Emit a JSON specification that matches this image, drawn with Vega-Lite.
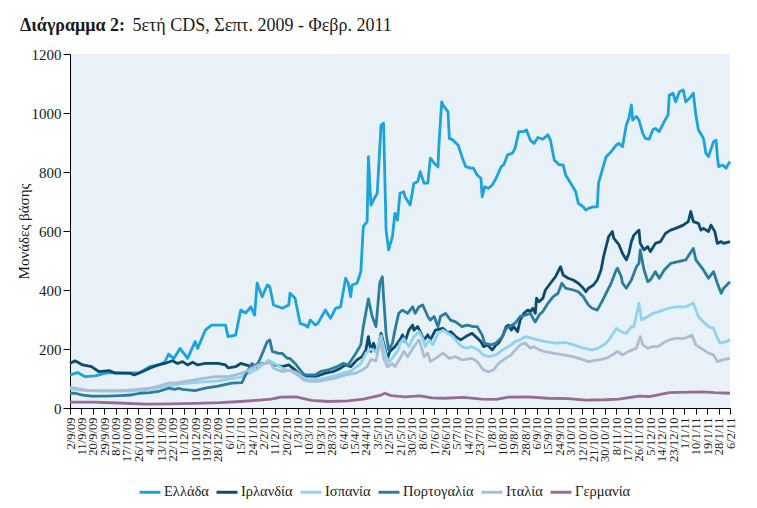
{
"$schema":"https://vega.github.io/schema/vega-lite/v6.json",
"width":660,"height":354,
"autosize":"none",
"padding":{"left":70,"top":54,"right":27,"bottom":100},
"background":"white",
"view":{"fill":"#e9f1f8","stroke":null},
"title":{"text":"Διάγραμμα 2:","subtitle":"\u200b\u00a0\u00a0\u00a0\u00a0\u00a0\u00a0\u00a0\u00a0\u00a0\u00a0\u00a0\u00a0\u00a0\u00a0\u00a0\u00a0\u00a0\u00a0\u00a0\u00a0\u00a0\u00a0\u00a0\u00a0\u00a05ετή CDS, Σεπτ. 2009 - Φεβρ. 2011","anchor":"start","frame":"group","dx":-50,"offset":12,"font":"Liberation Serif","fontSize":18,"fontWeight":"bold","color":"#1a1a1a","subtitleFont":"Liberation Serif","subtitleFontSize":18,"subtitleColor":"#1a1a1a","subtitlePadding":-18},
"data":{"values":[
{"c":"Ελλάδα","d":"2009-09-02","v":112},{"c":"Ελλάδα","d":"2009-09-08","v":120},{"c":"Ελλάδα","d":"2009-09-14","v":106},{"c":"Ελλάδα","d":"2009-09-22","v":109},{"c":"Ελλάδα","d":"2009-09-30","v":118},{"c":"Ελλάδα","d":"2009-10-08","v":120},{"c":"Ελλάδα","d":"2009-10-16","v":118},{"c":"Ελλάδα","d":"2009-10-27","v":120},{"c":"Ελλάδα","d":"2009-11-04","v":140},{"c":"Ελλάδα","d":"2009-11-11","v":146},{"c":"Ελλάδα","d":"2009-11-16","v":156},{"c":"Ελλάδα","d":"2009-11-19","v":183},{"c":"Ελλάδα","d":"2009-11-23","v":167},{"c":"Ελλάδα","d":"2009-11-28","v":202},{"c":"Ελλάδα","d":"2009-12-04","v":168},{"c":"Ελλάδα","d":"2009-12-10","v":225},{"c":"Ελλάδα","d":"2009-12-12","v":202},{"c":"Ελλάδα","d":"2009-12-18","v":264},{"c":"Ελλάδα","d":"2009-12-23","v":281},{"c":"Ελλάδα","d":"2010-01-03","v":281},{"c":"Ελλάδα","d":"2010-01-05","v":242},{"c":"Ελλάδα","d":"2010-01-11","v":247},{"c":"Ελλάδα","d":"2010-01-15","v":332},{"c":"Ελλάδα","d":"2010-01-19","v":322},{"c":"Ελλάδα","d":"2010-01-23","v":343},{"c":"Ελλάδα","d":"2010-01-26","v":315},{"c":"Ελλάδα","d":"2010-01-28","v":423},{"c":"Ελλάδα","d":"2010-02-01","v":377},{"c":"Ελλάδα","d":"2010-02-05","v":417},{"c":"Ελλάδα","d":"2010-02-07","v":411},{"c":"Ελλάδα","d":"2010-02-10","v":349},{"c":"Ελλάδα","d":"2010-02-14","v":343},{"c":"Ελλάδα","d":"2010-02-17","v":338},{"c":"Ελλάδα","d":"2010-02-22","v":349},{"c":"Ελλάδα","d":"2010-02-23","v":389},{"c":"Ελλάδα","d":"2010-02-27","v":372},{"c":"Ελλάδα","d":"2010-03-03","v":287},{"c":"Ελλάδα","d":"2010-03-07","v":281},{"c":"Ελλάδα","d":"2010-03-09","v":274},{"c":"Ελλάδα","d":"2010-03-11","v":298},{"c":"Ελλάδα","d":"2010-03-15","v":281},{"c":"Ελλάδα","d":"2010-03-17","v":287},{"c":"Ελλάδα","d":"2010-03-23","v":332},{"c":"Ελλάδα","d":"2010-03-27","v":304},{"c":"Ελλάδα","d":"2010-03-31","v":338},{"c":"Ελλάδα","d":"2010-04-04","v":343},{"c":"Ελλάδα","d":"2010-04-08","v":440},{"c":"Ελλάδα","d":"2010-04-10","v":423},{"c":"Ελλάδα","d":"2010-04-12","v":377},{"c":"Ελλάδα","d":"2010-04-13","v":417},{"c":"Ελλάδα","d":"2010-04-17","v":423},{"c":"Ελλάδα","d":"2010-04-20","v":462},{"c":"Ελλάδα","d":"2010-04-22","v":615},{"c":"Ελλάδα","d":"2010-04-25","v":632},{"c":"Ελλάδα","d":"2010-04-26","v":852},{"c":"Ελλάδα","d":"2010-04-28","v":688},{"c":"Ελλάδα","d":"2010-04-30","v":705},{"c":"Ελλάδα","d":"2010-05-03","v":728},{"c":"Ελλάδα","d":"2010-05-06","v":959},{"c":"Ελλάδα","d":"2010-05-08","v":965},{"c":"Ελλάδα","d":"2010-05-10","v":603},{"c":"Ελλάδα","d":"2010-05-12","v":536},{"c":"Ελλάδα","d":"2010-05-15","v":581},{"c":"Ελλάδα","d":"2010-05-17","v":660},{"c":"Ελλάδα","d":"2010-05-19","v":637},{"c":"Ελλάδα","d":"2010-05-21","v":728},{"c":"Ελλάδα","d":"2010-05-24","v":733},{"c":"Ελλάδα","d":"2010-05-25","v":716},{"c":"Ελλάδα","d":"2010-05-29","v":688},{"c":"Ελλάδα","d":"2010-06-01","v":762},{"c":"Ελλάδα","d":"2010-06-04","v":767},{"c":"Ελλάδα","d":"2010-06-06","v":801},{"c":"Ελλάδα","d":"2010-06-09","v":762},{"c":"Ελλάδα","d":"2010-06-12","v":762},{"c":"Ελλάδα","d":"2010-06-14","v":847},{"c":"Ελλάδα","d":"2010-06-17","v":830},{"c":"Ελλάδα","d":"2010-06-20","v":818},{"c":"Ελλάδα","d":"2010-06-21","v":908},{"c":"Ελλάδα","d":"2010-06-23","v":1038},{"c":"Ελλάδα","d":"2010-06-24","v":1027},{"c":"Ελλάδα","d":"2010-06-28","v":1004},{"c":"Ελλάδα","d":"2010-06-29","v":914},{"c":"Ελλάδα","d":"2010-07-02","v":908},{"c":"Ελλάδα","d":"2010-07-06","v":891},{"c":"Ελλάδα","d":"2010-07-09","v":852},{"c":"Ελλάδα","d":"2010-07-12","v":818},{"c":"Ελλάδα","d":"2010-07-16","v":813},{"c":"Ελλάδα","d":"2010-07-18","v":813},{"c":"Ελλάδα","d":"2010-07-21","v":790},{"c":"Ελλάδα","d":"2010-07-24","v":779},{"c":"Ελλάδα","d":"2010-07-25","v":716},{"c":"Ελλάδα","d":"2010-07-27","v":750},{"c":"Ελλάδα","d":"2010-07-30","v":745},{"c":"Ελλάδα","d":"2010-08-02","v":756},{"c":"Ελλάδα","d":"2010-08-05","v":779},{"c":"Ελλάδα","d":"2010-08-09","v":818},{"c":"Ελλάδα","d":"2010-08-11","v":824},{"c":"Ελλάδα","d":"2010-08-14","v":858},{"c":"Ελλάδα","d":"2010-08-18","v":864},{"c":"Ελλάδα","d":"2010-08-20","v":880},{"c":"Ελλάδα","d":"2010-08-23","v":937},{"c":"Ελλάδα","d":"2010-08-27","v":937},{"c":"Ελλάδα","d":"2010-08-29","v":943},{"c":"Ελλάδα","d":"2010-09-01","v":908},{"c":"Ελλάδα","d":"2010-09-04","v":897},{"c":"Ελλάδα","d":"2010-09-07","v":917},{"c":"Ελλάδα","d":"2010-09-11","v":911},{"c":"Ελλάδα","d":"2010-09-15","v":926},{"c":"Ελλάδα","d":"2010-09-17","v":908},{"c":"Ελλάδα","d":"2010-09-20","v":841},{"c":"Ελλάδα","d":"2010-09-24","v":824},{"c":"Ελλάδα","d":"2010-09-27","v":824},{"c":"Ελλάδα","d":"2010-09-29","v":790},{"c":"Ελλάδα","d":"2010-10-03","v":762},{"c":"Ελλάδα","d":"2010-10-07","v":733},{"c":"Ελλάδα","d":"2010-10-09","v":694},{"c":"Ελλάδα","d":"2010-10-13","v":682},{"c":"Ελλάδα","d":"2010-10-15","v":671},{"c":"Ελλάδα","d":"2010-10-17","v":677},{"c":"Ελλάδα","d":"2010-10-21","v":682},{"c":"Ελλάδα","d":"2010-10-24","v":682},{"c":"Ελλάδα","d":"2010-10-25","v":762},{"c":"Ελλάδα","d":"2010-10-28","v":807},{"c":"Ελλάδα","d":"2010-10-31","v":852},{"c":"Ελλάδα","d":"2010-11-04","v":869},{"c":"Ελλάδα","d":"2010-11-08","v":891},{"c":"Ελλάδα","d":"2010-11-10","v":897},{"c":"Ελλάδα","d":"2010-11-13","v":886},{"c":"Ελλάδα","d":"2010-11-16","v":959},{"c":"Ελλάδα","d":"2010-11-18","v":982},{"c":"Ελλάδα","d":"2010-11-20","v":1027},{"c":"Ελλάδα","d":"2010-11-21","v":976},{"c":"Ελλάδα","d":"2010-11-24","v":988},{"c":"Ελλάδα","d":"2010-11-26","v":976},{"c":"Ελλάδα","d":"2010-11-29","v":931},{"c":"Ελλάδα","d":"2010-12-01","v":914},{"c":"Ελλάδα","d":"2010-12-04","v":911},{"c":"Ελλάδα","d":"2010-12-07","v":943},{"c":"Ελλάδα","d":"2010-12-09","v":948},{"c":"Ελλάδα","d":"2010-12-12","v":937},{"c":"Ελλάδα","d":"2010-12-16","v":971},{"c":"Ελλάδα","d":"2010-12-19","v":993},{"c":"Ελλάδα","d":"2010-12-20","v":1061},{"c":"Ελλάδα","d":"2010-12-23","v":1067},{"c":"Ελλάδα","d":"2010-12-25","v":1038},{"c":"Ελλάδα","d":"2010-12-28","v":1072},{"c":"Ελλάδα","d":"2010-12-31","v":1078},{"c":"Ελλάδα","d":"2011-01-02","v":1038},{"c":"Ελλάδα","d":"2011-01-05","v":1050},{"c":"Ελλάδα","d":"2011-01-08","v":1067},{"c":"Ελλάδα","d":"2011-01-10","v":993},{"c":"Ελλάδα","d":"2011-01-12","v":943},{"c":"Ελλάδα","d":"2011-01-16","v":914},{"c":"Ελλάδα","d":"2011-01-18","v":863},{"c":"Ελλάδα","d":"2011-01-20","v":852},{"c":"Ελλάδα","d":"2011-01-24","v":903},{"c":"Ελλάδα","d":"2011-01-26","v":908},{"c":"Ελλάδα","d":"2011-01-27","v":852},{"c":"Ελλάδα","d":"2011-01-28","v":818},{"c":"Ελλάδα","d":"2011-01-31","v":824},{"c":"Ελλάδα","d":"2011-02-03","v":813},{"c":"Ελλάδα","d":"2011-02-05","v":829},{"c":"Ελλάδα","d":"2011-02-06","v":835},
{"c":"Ιρλανδία","d":"2009-09-02","v":151},{"c":"Ιρλανδία","d":"2009-09-06","v":160},{"c":"Ιρλανδία","d":"2009-09-12","v":146},{"c":"Ιρλανδία","d":"2009-09-19","v":140},{"c":"Ιρλανδία","d":"2009-09-25","v":123},{"c":"Ιρλανδία","d":"2009-10-03","v":127},{"c":"Ιρλανδία","d":"2009-10-08","v":118},{"c":"Ιρλανδία","d":"2009-10-19","v":118},{"c":"Ιρλανδία","d":"2009-10-23","v":112},{"c":"Ιρλανδία","d":"2009-10-29","v":123},{"c":"Ιρλανδία","d":"2009-11-04","v":135},{"c":"Ιρλανδία","d":"2009-11-11","v":146},{"c":"Ιρλανδία","d":"2009-11-16","v":151},{"c":"Ιρλανδία","d":"2009-11-22","v":160},{"c":"Ιρλανδία","d":"2009-11-26","v":151},{"c":"Ιρλανδία","d":"2009-11-30","v":157},{"c":"Ιρλανδία","d":"2009-12-04","v":146},{"c":"Ιρλανδία","d":"2009-12-08","v":155},{"c":"Ιρλανδία","d":"2009-12-12","v":146},{"c":"Ιρλανδία","d":"2009-12-18","v":151},{"c":"Ιρλανδία","d":"2009-12-28","v":151},{"c":"Ιρλανδία","d":"2010-01-03","v":146},{"c":"Ιρλανδία","d":"2010-01-05","v":136},{"c":"Ιρλανδία","d":"2010-01-11","v":140},{"c":"Ιρλανδία","d":"2010-01-15","v":151},{"c":"Ιρλανδία","d":"2010-01-19","v":146},{"c":"Ιρλανδία","d":"2010-01-24","v":140},{"c":"Ιρλανδία","d":"2010-01-27","v":146},{"c":"Ιρλανδία","d":"2010-02-03","v":151},{"c":"Ιρλανδία","d":"2010-02-07","v":157},{"c":"Ιρλανδία","d":"2010-02-11","v":146},{"c":"Ιρλανδία","d":"2010-02-17","v":140},{"c":"Ιρλανδία","d":"2010-02-22","v":146},{"c":"Ιρλανδία","d":"2010-02-27","v":129},{"c":"Ιρλανδία","d":"2010-03-03","v":112},{"c":"Ιρλανδία","d":"2010-03-07","v":106},{"c":"Ιρλανδία","d":"2010-03-15","v":106},{"c":"Ιρλανδία","d":"2010-03-19","v":112},{"c":"Ιρλανδία","d":"2010-03-23","v":118},{"c":"Ιρλανδία","d":"2010-03-29","v":123},{"c":"Ιρλανδία","d":"2010-04-04","v":135},{"c":"Ιρλανδία","d":"2010-04-08","v":146},{"c":"Ιρλανδία","d":"2010-04-12","v":140},{"c":"Ιρλανδία","d":"2010-04-17","v":163},{"c":"Ιρλανδία","d":"2010-04-21","v":174},{"c":"Ιρλανδία","d":"2010-04-24","v":197},{"c":"Ιρλανδία","d":"2010-04-26","v":242},{"c":"Ιρλανδία","d":"2010-04-28","v":192},{"c":"Ιρλανδία","d":"2010-04-30","v":220},{"c":"Ιρλανδία","d":"2010-05-03","v":186},{"c":"Ιρλανδία","d":"2010-05-06","v":253},{"c":"Ιρλανδία","d":"2010-05-08","v":220},{"c":"Ιρλανδία","d":"2010-05-11","v":168},{"c":"Ιρλανδία","d":"2010-05-13","v":192},{"c":"Ιρλανδία","d":"2010-05-17","v":208},{"c":"Ιρλανδία","d":"2010-05-21","v":231},{"c":"Ιρλανδία","d":"2010-05-23","v":248},{"c":"Ιρλανδία","d":"2010-05-25","v":225},{"c":"Ιρλανδία","d":"2010-05-28","v":264},{"c":"Ιρλανδία","d":"2010-05-31","v":281},{"c":"Ιρλανδία","d":"2010-06-01","v":264},{"c":"Ιρλανδία","d":"2010-06-04","v":276},{"c":"Ιρλανδία","d":"2010-06-09","v":231},{"c":"Ιρλανδία","d":"2010-06-12","v":248},{"c":"Ιρλανδία","d":"2010-06-14","v":231},{"c":"Ιρλανδία","d":"2010-06-18","v":264},{"c":"Ιρλανδία","d":"2010-06-24","v":270},{"c":"Ιρλανδία","d":"2010-06-28","v":253},{"c":"Ιρλανδία","d":"2010-06-30","v":259},{"c":"Ιρλανδία","d":"2010-07-04","v":242},{"c":"Ιρλανδία","d":"2010-07-08","v":231},{"c":"Ιρλανδία","d":"2010-07-12","v":242},{"c":"Ιρλανδία","d":"2010-07-17","v":253},{"c":"Ιρλανδία","d":"2010-07-21","v":237},{"c":"Ιρλανδία","d":"2010-07-24","v":225},{"c":"Ιρλανδία","d":"2010-07-26","v":208},{"c":"Ιρλανδία","d":"2010-07-29","v":214},{"c":"Ιρλανδία","d":"2010-08-02","v":197},{"c":"Ιρλανδία","d":"2010-08-05","v":214},{"c":"Ιρλανδία","d":"2010-08-07","v":220},{"c":"Ιρλανδία","d":"2010-08-10","v":242},{"c":"Ιρλανδία","d":"2010-08-13","v":276},{"c":"Ιρλανδία","d":"2010-08-15","v":281},{"c":"Ιρλανδία","d":"2010-08-17","v":264},{"c":"Ιρλανδία","d":"2010-08-19","v":276},{"c":"Ιρλανδία","d":"2010-08-22","v":259},{"c":"Ιρλανδία","d":"2010-08-24","v":298},{"c":"Ιρλανδία","d":"2010-08-27","v":321},{"c":"Ιρλανδία","d":"2010-08-30","v":332},{"c":"Ιρλανδία","d":"2010-09-01","v":327},{"c":"Ιρλανδία","d":"2010-09-03","v":338},{"c":"Ιρλανδία","d":"2010-09-05","v":321},{"c":"Ιρλανδία","d":"2010-09-06","v":372},{"c":"Ιρλανδία","d":"2010-09-08","v":360},{"c":"Ιρλανδία","d":"2010-09-11","v":372},{"c":"Ιρλανδία","d":"2010-09-13","v":400},{"c":"Ιρλανδία","d":"2010-09-17","v":423},{"c":"Ιρλανδία","d":"2010-09-21","v":445},{"c":"Ιρλανδία","d":"2010-09-25","v":479},{"c":"Ιρλανδία","d":"2010-09-27","v":451},{"c":"Ιρλανδία","d":"2010-10-01","v":440},{"c":"Ιρλανδία","d":"2010-10-05","v":434},{"c":"Ιρλανδία","d":"2010-10-09","v":423},{"c":"Ιρλανδία","d":"2010-10-13","v":406},{"c":"Ιρλανδία","d":"2010-10-15","v":394},{"c":"Ιρλανδία","d":"2010-10-17","v":406},{"c":"Ιρλανδία","d":"2010-10-21","v":417},{"c":"Ιρλανδία","d":"2010-10-24","v":434},{"c":"Ιρλανδία","d":"2010-10-27","v":468},{"c":"Ιρλανδία","d":"2010-10-29","v":513},{"c":"Ιρλανδία","d":"2010-11-02","v":581},{"c":"Ιρλανδία","d":"2010-11-05","v":598},{"c":"Ιρλανδία","d":"2010-11-06","v":576},{"c":"Ιρλανδία","d":"2010-11-10","v":555},{"c":"Ιρλανδία","d":"2010-11-13","v":524},{"c":"Ιρλανδία","d":"2010-11-16","v":502},{"c":"Ιρλανδία","d":"2010-11-18","v":524},{"c":"Ιρλανδία","d":"2010-11-20","v":564},{"c":"Ιρλανδία","d":"2010-11-22","v":586},{"c":"Ιρλανδία","d":"2010-11-26","v":603},{"c":"Ιρλανδία","d":"2010-11-27","v":558},{"c":"Ιρλανδία","d":"2010-11-30","v":536},{"c":"Ιρλανδία","d":"2010-12-03","v":547},{"c":"Ιρλανδία","d":"2010-12-05","v":530},{"c":"Ιρλανδία","d":"2010-12-09","v":558},{"c":"Ιρλανδία","d":"2010-12-13","v":564},{"c":"Ιρλανδία","d":"2010-12-17","v":592},{"c":"Ιρλανδία","d":"2010-12-21","v":603},{"c":"Ιρλανδία","d":"2010-12-25","v":609},{"c":"Ιρλανδία","d":"2010-12-31","v":620},{"c":"Ιρλανδία","d":"2011-01-04","v":632},{"c":"Ιρλανδία","d":"2011-01-06","v":666},{"c":"Ιρλανδία","d":"2011-01-08","v":632},{"c":"Ιρλανδία","d":"2011-01-12","v":626},{"c":"Ιρλανδία","d":"2011-01-14","v":603},{"c":"Ιρλανδία","d":"2011-01-16","v":609},{"c":"Ιρλανδία","d":"2011-01-20","v":598},{"c":"Ιρλανδία","d":"2011-01-22","v":620},{"c":"Ιρλανδία","d":"2011-01-25","v":598},{"c":"Ιρλανδία","d":"2011-01-27","v":558},{"c":"Ιρλανδία","d":"2011-01-30","v":564},{"c":"Ιρλανδία","d":"2011-02-01","v":558},{"c":"Ιρλανδία","d":"2011-02-06","v":564},
{"c":"Ισπανία","d":"2009-09-02","v":66},{"c":"Ισπανία","d":"2009-09-12","v":60},{"c":"Ισπανία","d":"2009-09-26","v":57},{"c":"Ισπανία","d":"2009-10-20","v":57},{"c":"Ισπανία","d":"2009-11-04","v":63},{"c":"Ισπανία","d":"2009-11-16","v":72},{"c":"Ισπανία","d":"2009-11-28","v":82},{"c":"Ισπανία","d":"2009-12-14","v":88},{"c":"Ισπανία","d":"2009-12-30","v":93},{"c":"Ισπανία","d":"2010-01-15","v":105},{"c":"Ισπανία","d":"2010-01-23","v":120},{"c":"Ισπανία","d":"2010-01-29","v":135},{"c":"Ισπανία","d":"2010-02-06","v":162},{"c":"Ισπανία","d":"2010-02-11","v":150},{"c":"Ισπανία","d":"2010-02-19","v":130},{"c":"Ισπανία","d":"2010-02-27","v":122},{"c":"Ισπανία","d":"2010-03-07","v":100},{"c":"Ισπανία","d":"2010-03-19","v":98},{"c":"Ισπανία","d":"2010-03-31","v":110},{"c":"Ισπανία","d":"2010-04-12","v":125},{"c":"Ισπανία","d":"2010-04-20","v":150},{"c":"Ισπανία","d":"2010-04-24","v":185},{"c":"Ισπανία","d":"2010-04-28","v":200},{"c":"Ισπανία","d":"2010-05-02","v":190},{"c":"Ισπανία","d":"2010-05-06","v":245},{"c":"Ισπανία","d":"2010-05-10","v":175},{"c":"Ισπανία","d":"2010-05-12","v":155},{"c":"Ισπανία","d":"2010-05-16","v":175},{"c":"Ισπανία","d":"2010-05-20","v":200},{"c":"Ισπανία","d":"2010-05-21","v":220},{"c":"Ισπανία","d":"2010-05-24","v":236},{"c":"Ισπανία","d":"2010-05-28","v":208},{"c":"Ισπανία","d":"2010-06-01","v":242},{"c":"Ισπανία","d":"2010-06-05","v":259},{"c":"Ισπανία","d":"2010-06-08","v":236},{"c":"Ισπανία","d":"2010-06-10","v":208},{"c":"Ισπανία","d":"2010-06-13","v":231},{"c":"Ισπανία","d":"2010-06-16","v":214},{"c":"Ισπανία","d":"2010-06-20","v":253},{"c":"Ισπανία","d":"2010-06-24","v":264},{"c":"Ισπανία","d":"2010-06-28","v":253},{"c":"Ισπανία","d":"2010-07-02","v":242},{"c":"Ισπανία","d":"2010-07-06","v":220},{"c":"Ισπανία","d":"2010-07-09","v":208},{"c":"Ισπανία","d":"2010-07-13","v":203},{"c":"Ισπανία","d":"2010-07-17","v":208},{"c":"Ισπανία","d":"2010-07-22","v":197},{"c":"Ισπανία","d":"2010-07-26","v":180},{"c":"Ισπανία","d":"2010-07-30","v":174},{"c":"Ισπανία","d":"2010-08-05","v":180},{"c":"Ισπανία","d":"2010-08-10","v":197},{"c":"Ισπανία","d":"2010-08-17","v":214},{"c":"Ισπανία","d":"2010-08-20","v":225},{"c":"Ισπανία","d":"2010-08-24","v":231},{"c":"Ισπανία","d":"2010-08-28","v":242},{"c":"Ισπανία","d":"2010-09-03","v":236},{"c":"Ισπανία","d":"2010-09-07","v":231},{"c":"Ισπανία","d":"2010-09-13","v":225},{"c":"Ισπανία","d":"2010-09-21","v":220},{"c":"Ισπανία","d":"2010-09-29","v":222},{"c":"Ισπανία","d":"2010-10-05","v":214},{"c":"Ισπανία","d":"2010-10-13","v":203},{"c":"Ισπανία","d":"2010-10-20","v":197},{"c":"Ισπανία","d":"2010-10-25","v":203},{"c":"Ισπανία","d":"2010-10-31","v":220},{"c":"Ισπανία","d":"2010-11-04","v":242},{"c":"Ισπανία","d":"2010-11-08","v":270},{"c":"Ισπανία","d":"2010-11-12","v":259},{"c":"Ισπανία","d":"2010-11-16","v":253},{"c":"Ισπανία","d":"2010-11-20","v":276},{"c":"Ισπανία","d":"2010-11-22","v":276},{"c":"Ισπανία","d":"2010-11-26","v":355},{"c":"Ισπανία","d":"2010-11-28","v":298},{"c":"Ισπανία","d":"2010-12-03","v":310},{"c":"Ισπανία","d":"2010-12-07","v":321},{"c":"Ισπανία","d":"2010-12-12","v":327},{"c":"Ισπανία","d":"2010-12-19","v":338},{"c":"Ισπανία","d":"2010-12-25","v":343},{"c":"Ισπανία","d":"2011-01-02","v":343},{"c":"Ισπανία","d":"2011-01-08","v":355},{"c":"Ισπανία","d":"2011-01-12","v":310},{"c":"Ισπανία","d":"2011-01-16","v":292},{"c":"Ισπανία","d":"2011-01-20","v":276},{"c":"Ισπανία","d":"2011-01-24","v":270},{"c":"Ισπανία","d":"2011-01-26","v":247},{"c":"Ισπανία","d":"2011-01-29","v":220},{"c":"Ισπανία","d":"2011-02-03","v":225},{"c":"Ισπανία","d":"2011-02-06","v":231},
{"c":"Πορτογαλία","d":"2009-09-02","v":50},{"c":"Πορτογαλία","d":"2009-09-06","v":50},{"c":"Πορτογαλία","d":"2009-09-12","v":44},{"c":"Πορτογαλία","d":"2009-09-19","v":40},{"c":"Πορτογαλία","d":"2009-09-30","v":40},{"c":"Πορτογαλία","d":"2009-10-12","v":42},{"c":"Πορτογαλία","d":"2009-10-20","v":44},{"c":"Πορτογαλία","d":"2009-10-27","v":50},{"c":"Πορτογαλία","d":"2009-11-04","v":52},{"c":"Πορτογαλία","d":"2009-11-11","v":56},{"c":"Πορτογαλία","d":"2009-11-19","v":67},{"c":"Πορτογαλία","d":"2009-11-24","v":63},{"c":"Πορτογαλία","d":"2009-11-27","v":67},{"c":"Πορτογαλία","d":"2009-11-30","v":63},{"c":"Πορτογαλία","d":"2009-12-10","v":59},{"c":"Πορτογαλία","d":"2009-12-18","v":67},{"c":"Πορτογαλία","d":"2009-12-28","v":74},{"c":"Πορτογαλία","d":"2010-01-08","v":84},{"c":"Πορτογαλία","d":"2010-01-16","v":86},{"c":"Πορτογαλία","d":"2010-01-20","v":123},{"c":"Πορτογαλία","d":"2010-01-24","v":151},{"c":"Πορτογαλία","d":"2010-01-27","v":140},{"c":"Πορτογαλία","d":"2010-01-30","v":163},{"c":"Πορτογαλία","d":"2010-02-05","v":225},{"c":"Πορτογαλία","d":"2010-02-07","v":231},{"c":"Πορτογαλία","d":"2010-02-09","v":192},{"c":"Πορτογαλία","d":"2010-02-14","v":185},{"c":"Πορτογαλία","d":"2010-02-17","v":185},{"c":"Πορτογαλία","d":"2010-02-21","v":168},{"c":"Πορτογαλία","d":"2010-02-23","v":168},{"c":"Πορτογαλία","d":"2010-02-27","v":151},{"c":"Πορτογαλία","d":"2010-03-05","v":118},{"c":"Πορτογαλία","d":"2010-03-07","v":112},{"c":"Πορτογαλία","d":"2010-03-15","v":112},{"c":"Πορτογαλία","d":"2010-03-19","v":123},{"c":"Πορτογαλία","d":"2010-03-25","v":129},{"c":"Πορτογαλία","d":"2010-04-01","v":140},{"c":"Πορτογαλία","d":"2010-04-06","v":151},{"c":"Πορτογαλία","d":"2010-04-10","v":146},{"c":"Πορτογαλία","d":"2010-04-16","v":185},{"c":"Πορτογαλία","d":"2010-04-20","v":214},{"c":"Πορτογαλία","d":"2010-04-22","v":276},{"c":"Πορτογαλία","d":"2010-04-26","v":370},{"c":"Πορτογαλία","d":"2010-04-29","v":310},{"c":"Πορτογαλία","d":"2010-05-02","v":276},{"c":"Πορτογαλία","d":"2010-05-05","v":423},{"c":"Πορτογαλία","d":"2010-05-07","v":445},{"c":"Πορτογαλία","d":"2010-05-08","v":377},{"c":"Πορτογαλία","d":"2010-05-10","v":253},{"c":"Πορτογαλία","d":"2010-05-12","v":197},{"c":"Πορτογαλία","d":"2010-05-15","v":220},{"c":"Πορτογαλία","d":"2010-05-17","v":264},{"c":"Πορτογαλία","d":"2010-05-20","v":321},{"c":"Πορτογαλία","d":"2010-05-23","v":332},{"c":"Πορτογαλία","d":"2010-05-27","v":321},{"c":"Πορτογαλία","d":"2010-05-31","v":343},{"c":"Πορτογαλία","d":"2010-06-02","v":321},{"c":"Πορτογαλία","d":"2010-06-05","v":343},{"c":"Πορτογαλία","d":"2010-06-08","v":349},{"c":"Πορτογαλία","d":"2010-06-12","v":310},{"c":"Πορτογαλία","d":"2010-06-14","v":298},{"c":"Πορτογαλία","d":"2010-06-17","v":310},{"c":"Πορτογαλία","d":"2010-06-20","v":276},{"c":"Πορτογαλία","d":"2010-06-22","v":310},{"c":"Πορτογαλία","d":"2010-06-26","v":321},{"c":"Πορτογαλία","d":"2010-06-30","v":298},{"c":"Πορτογαλία","d":"2010-07-04","v":292},{"c":"Πορτογαλία","d":"2010-07-09","v":276},{"c":"Πορτογαλία","d":"2010-07-13","v":281},{"c":"Πορτογαλία","d":"2010-07-18","v":276},{"c":"Πορτογαλία","d":"2010-07-21","v":276},{"c":"Πορτογαλία","d":"2010-07-25","v":247},{"c":"Πορτογαλία","d":"2010-07-27","v":219},{"c":"Πορτογαλία","d":"2010-08-01","v":214},{"c":"Πορτογαλία","d":"2010-08-05","v":220},{"c":"Πορτογαλία","d":"2010-08-10","v":242},{"c":"Πορτογαλία","d":"2010-08-13","v":270},{"c":"Πορτογαλία","d":"2010-08-17","v":280},{"c":"Πορτογαλία","d":"2010-08-20","v":287},{"c":"Πορτογαλία","d":"2010-08-24","v":310},{"c":"Πορτογαλία","d":"2010-08-28","v":315},{"c":"Πορτογαλία","d":"2010-09-01","v":321},{"c":"Πορτογαλία","d":"2010-09-04","v":298},{"c":"Πορτογαλία","d":"2010-09-05","v":292},{"c":"Πορτογαλία","d":"2010-09-08","v":315},{"c":"Πορτογαλία","d":"2010-09-11","v":327},{"c":"Πορτογαλία","d":"2010-09-15","v":355},{"c":"Πορτογαλία","d":"2010-09-19","v":377},{"c":"Πορτογαλία","d":"2010-09-23","v":389},{"c":"Πορτογαλία","d":"2010-09-26","v":423},{"c":"Πορτογαλία","d":"2010-09-29","v":406},{"c":"Πορτογαλία","d":"2010-10-05","v":400},{"c":"Πορτογαλία","d":"2010-10-09","v":394},{"c":"Πορτογαλία","d":"2010-10-13","v":377},{"c":"Πορτογαλία","d":"2010-10-17","v":349},{"c":"Πορτογαλία","d":"2010-10-20","v":338},{"c":"Πορτογαλία","d":"2010-10-24","v":332},{"c":"Πορτογαλία","d":"2010-10-27","v":355},{"c":"Πορτογαλία","d":"2010-10-31","v":389},{"c":"Πορτογαλία","d":"2010-11-04","v":423},{"c":"Πορτογαλία","d":"2010-11-08","v":468},{"c":"Πορτογαλία","d":"2010-11-09","v":474},{"c":"Πορτογαλία","d":"2010-11-12","v":445},{"c":"Πορτογαλία","d":"2010-11-13","v":423},{"c":"Πορτογαλία","d":"2010-11-16","v":406},{"c":"Πορτογαλία","d":"2010-11-20","v":434},{"c":"Πορτογαλία","d":"2010-11-24","v":479},{"c":"Πορτογαλία","d":"2010-11-26","v":490},{"c":"Πορτογαλία","d":"2010-11-27","v":536},{"c":"Πορτογαλία","d":"2010-11-30","v":468},{"c":"Πορτογαλία","d":"2010-12-03","v":428},{"c":"Πορτογαλία","d":"2010-12-05","v":434},{"c":"Πορτογαλία","d":"2010-12-09","v":462},{"c":"Πορτογαλία","d":"2010-12-12","v":440},{"c":"Πορτογαλία","d":"2010-12-16","v":468},{"c":"Πορτογαλία","d":"2010-12-21","v":490},{"c":"Πορτογαλία","d":"2010-12-27","v":496},{"c":"Πορτογαλία","d":"2011-01-02","v":502},{"c":"Πορτογαλία","d":"2011-01-08","v":541},{"c":"Πορτογαλία","d":"2011-01-10","v":502},{"c":"Πορτογαλία","d":"2011-01-16","v":468},{"c":"Πορτογαλία","d":"2011-01-20","v":440},{"c":"Πορτογαλία","d":"2011-01-24","v":462},{"c":"Πορτογαλία","d":"2011-01-27","v":423},{"c":"Πορτογαλία","d":"2011-01-30","v":389},{"c":"Πορτογαλία","d":"2011-02-01","v":406},{"c":"Πορτογαλία","d":"2011-02-06","v":428},
{"c":"Ιταλία","d":"2009-09-02","v":70},{"c":"Ιταλία","d":"2009-09-06","v":67},{"c":"Ιταλία","d":"2009-09-17","v":59},{"c":"Ιταλία","d":"2009-10-12","v":59},{"c":"Ιταλία","d":"2009-10-23","v":62},{"c":"Ιταλία","d":"2009-11-04","v":67},{"c":"Ιταλία","d":"2009-11-11","v":74},{"c":"Ιταλία","d":"2009-11-19","v":84},{"c":"Ιταλία","d":"2009-11-27","v":86},{"c":"Ιταλία","d":"2009-12-02","v":90},{"c":"Ιταλία","d":"2009-12-10","v":95},{"c":"Ιταλία","d":"2009-12-18","v":101},{"c":"Ιταλία","d":"2009-12-26","v":106},{"c":"Ιταλία","d":"2010-01-05","v":106},{"c":"Ιταλία","d":"2010-01-11","v":112},{"c":"Ιταλία","d":"2010-01-16","v":118},{"c":"Ιταλία","d":"2010-01-24","v":135},{"c":"Ιταλία","d":"2010-01-29","v":146},{"c":"Ιταλία","d":"2010-02-05","v":151},{"c":"Ιταλία","d":"2010-02-07","v":157},{"c":"Ιταλία","d":"2010-02-10","v":135},{"c":"Ιταλία","d":"2010-02-17","v":123},{"c":"Ιταλία","d":"2010-02-23","v":129},{"c":"Ιταλία","d":"2010-03-01","v":112},{"c":"Ιταλία","d":"2010-03-06","v":95},{"c":"Ιταλία","d":"2010-03-10","v":90},{"c":"Ιταλία","d":"2010-03-17","v":90},{"c":"Ιταλία","d":"2010-03-23","v":95},{"c":"Ιταλία","d":"2010-03-31","v":101},{"c":"Ιταλία","d":"2010-04-08","v":112},{"c":"Ιταλία","d":"2010-04-16","v":118},{"c":"Ιταλία","d":"2010-04-21","v":129},{"c":"Ιταλία","d":"2010-04-25","v":140},{"c":"Ιταλία","d":"2010-04-28","v":165},{"c":"Ιταλία","d":"2010-05-02","v":160},{"c":"Ιταλία","d":"2010-05-04","v":200},{"c":"Ιταλία","d":"2010-05-06","v":225},{"c":"Ιταλία","d":"2010-05-08","v":170},{"c":"Ιταλία","d":"2010-05-11","v":140},{"c":"Ιταλία","d":"2010-05-15","v":150},{"c":"Ιταλία","d":"2010-05-17","v":140},{"c":"Ιταλία","d":"2010-05-21","v":168},{"c":"Ιταλία","d":"2010-05-24","v":192},{"c":"Ιταλία","d":"2010-05-27","v":174},{"c":"Ιταλία","d":"2010-06-01","v":208},{"c":"Ιταλία","d":"2010-06-05","v":231},{"c":"Ιταλία","d":"2010-06-06","v":220},{"c":"Ιταλία","d":"2010-06-09","v":174},{"c":"Ιταλία","d":"2010-06-12","v":186},{"c":"Ιταλία","d":"2010-06-14","v":157},{"c":"Ιταλία","d":"2010-06-18","v":168},{"c":"Ιταλία","d":"2010-06-24","v":186},{"c":"Ιταλία","d":"2010-06-29","v":168},{"c":"Ιταλία","d":"2010-07-04","v":174},{"c":"Ιταλία","d":"2010-07-09","v":163},{"c":"Ιταλία","d":"2010-07-17","v":168},{"c":"Ιταλία","d":"2010-07-21","v":157},{"c":"Ιταλία","d":"2010-07-26","v":129},{"c":"Ιταλία","d":"2010-07-30","v":123},{"c":"Ιταλία","d":"2010-08-03","v":129},{"c":"Ιταλία","d":"2010-08-07","v":151},{"c":"Ιταλία","d":"2010-08-13","v":170},{"c":"Ιταλία","d":"2010-08-17","v":180},{"c":"Ιταλία","d":"2010-08-18","v":186},{"c":"Ιταλία","d":"2010-08-24","v":214},{"c":"Ιταλία","d":"2010-08-28","v":220},{"c":"Ιταλία","d":"2010-09-01","v":203},{"c":"Ιταλία","d":"2010-09-04","v":208},{"c":"Ιταλία","d":"2010-09-08","v":197},{"c":"Ιταλία","d":"2010-09-12","v":192},{"c":"Ιταλία","d":"2010-09-19","v":186},{"c":"Ιταλία","d":"2010-09-27","v":180},{"c":"Ιταλία","d":"2010-10-05","v":174},{"c":"Ιταλία","d":"2010-10-13","v":163},{"c":"Ιταλία","d":"2010-10-17","v":157},{"c":"Ιταλία","d":"2010-10-25","v":163},{"c":"Ιταλία","d":"2010-10-31","v":168},{"c":"Ιταλία","d":"2010-11-05","v":180},{"c":"Ιταλία","d":"2010-11-09","v":192},{"c":"Ιταλία","d":"2010-11-13","v":180},{"c":"Ιταλία","d":"2010-11-18","v":192},{"c":"Ιταλία","d":"2010-11-24","v":203},{"c":"Ιταλία","d":"2010-11-27","v":242},{"c":"Ιταλία","d":"2010-11-29","v":214},{"c":"Ιταλία","d":"2010-12-03","v":203},{"c":"Ιταλία","d":"2010-12-07","v":208},{"c":"Ιταλία","d":"2010-12-11","v":208},{"c":"Ιταλία","d":"2010-12-15","v":220},{"c":"Ιταλία","d":"2010-12-20","v":231},{"c":"Ιταλία","d":"2010-12-25","v":236},{"c":"Ιταλία","d":"2011-01-01","v":236},{"c":"Ιταλία","d":"2011-01-07","v":247},{"c":"Ιταλία","d":"2011-01-10","v":214},{"c":"Ιταλία","d":"2011-01-16","v":197},{"c":"Ιταλία","d":"2011-01-20","v":186},{"c":"Ιταλία","d":"2011-01-24","v":180},{"c":"Ιταλία","d":"2011-01-27","v":157},{"c":"Ιταλία","d":"2011-01-31","v":163},{"c":"Ιταλία","d":"2011-02-06","v":168},
{"c":"Γερμανία","d":"2009-09-02","v":20},{"c":"Γερμανία","d":"2009-09-20","v":20},{"c":"Γερμανία","d":"2009-10-10","v":17},{"c":"Γερμανία","d":"2009-11-01","v":13},{"c":"Γερμανία","d":"2009-11-20","v":14},{"c":"Γερμανία","d":"2009-12-10","v":16},{"c":"Γερμανία","d":"2009-12-30","v":18},{"c":"Γερμανία","d":"2010-01-15","v":22},{"c":"Γερμανία","d":"2010-01-30","v":27},{"c":"Γερμανία","d":"2010-02-08","v":30},{"c":"Γερμανία","d":"2010-02-16","v":37},{"c":"Γερμανία","d":"2010-02-28","v":38},{"c":"Γερμανία","d":"2010-03-05","v":33},{"c":"Γερμανία","d":"2010-03-12","v":26},{"c":"Γερμανία","d":"2010-03-25","v":22},{"c":"Γερμανία","d":"2010-04-10","v":24},{"c":"Γερμανία","d":"2010-04-22","v":30},{"c":"Γερμανία","d":"2010-04-30","v":38},{"c":"Γερμανία","d":"2010-05-06","v":44},{"c":"Γερμανία","d":"2010-05-09","v":50},{"c":"Γερμανία","d":"2010-05-14","v":42},{"c":"Γερμανία","d":"2010-05-25","v":38},{"c":"Γερμανία","d":"2010-06-06","v":41},{"c":"Γερμανία","d":"2010-06-15","v":34},{"c":"Γερμανία","d":"2010-06-25","v":33},{"c":"Γερμανία","d":"2010-07-10","v":36},{"c":"Γερμανία","d":"2010-07-25","v":30},{"c":"Γερμανία","d":"2010-08-05","v":29},{"c":"Γερμανία","d":"2010-08-15","v":37},{"c":"Γερμανία","d":"2010-08-30","v":38},{"c":"Γερμανία","d":"2010-09-15","v":33},{"c":"Γερμανία","d":"2010-10-01","v":32},{"c":"Γερμανία","d":"2010-10-15","v":27},{"c":"Γερμανία","d":"2010-10-30","v":28},{"c":"Γερμανία","d":"2010-11-10","v":30},{"c":"Γερμανία","d":"2010-11-26","v":40},{"c":"Γερμανία","d":"2010-12-05","v":39},{"c":"Γερμανία","d":"2010-12-12","v":45},{"c":"Γερμανία","d":"2010-12-20","v":52},{"c":"Γερμανία","d":"2011-01-05","v":54},{"c":"Γερμανία","d":"2011-01-15","v":55},{"c":"Γερμανία","d":"2011-01-25","v":52},{"c":"Γερμανία","d":"2011-02-06","v":50}
]},
"mark":{"type":"line","strokeWidth":2.8,"strokeJoin":"round"},
"encoding":{
"x":{"field":"d","type":"temporal","scale":{"type":"utc","nice":false,"domain":[{"year":2009,"month":9,"date":2,"utc":true},{"year":2011,"month":2,"date":6,"utc":true}]},
"axis":{"title":null,"grid":false,"format":"%-d/%-m/%y","labelAngle":-90,"labelFont":"Liberation Serif","labelFontSize":12.5,"labelColor":"#1a1a1a","labelOverlap":false,"labelFlush":false,"labelBound":false,"labelPadding":3,"tickSize":6,"tickColor":"#000","domainColor":"#000",
"values":[{"year":2009,"month":9,"date":2,"utc":true},{"year":2009,"month":9,"date":11,"utc":true},{"year":2009,"month":9,"date":20,"utc":true},{"year":2009,"month":9,"date":29,"utc":true},{"year":2009,"month":10,"date":8,"utc":true},{"year":2009,"month":10,"date":17,"utc":true},{"year":2009,"month":10,"date":26,"utc":true},{"year":2009,"month":11,"date":4,"utc":true},{"year":2009,"month":11,"date":13,"utc":true},{"year":2009,"month":11,"date":22,"utc":true},{"year":2009,"month":12,"date":1,"utc":true},{"year":2009,"month":12,"date":10,"utc":true},{"year":2009,"month":12,"date":19,"utc":true},{"year":2009,"month":12,"date":28,"utc":true},{"year":2010,"month":1,"date":6,"utc":true},{"year":2010,"month":1,"date":15,"utc":true},{"year":2010,"month":1,"date":24,"utc":true},{"year":2010,"month":2,"date":2,"utc":true},{"year":2010,"month":2,"date":11,"utc":true},{"year":2010,"month":2,"date":20,"utc":true},{"year":2010,"month":3,"date":1,"utc":true},{"year":2010,"month":3,"date":10,"utc":true},{"year":2010,"month":3,"date":19,"utc":true},{"year":2010,"month":3,"date":28,"utc":true},{"year":2010,"month":4,"date":6,"utc":true},{"year":2010,"month":4,"date":15,"utc":true},{"year":2010,"month":4,"date":24,"utc":true},{"year":2010,"month":5,"date":3,"utc":true},{"year":2010,"month":5,"date":12,"utc":true},{"year":2010,"month":5,"date":21,"utc":true},{"year":2010,"month":5,"date":30,"utc":true},{"year":2010,"month":6,"date":8,"utc":true},{"year":2010,"month":6,"date":17,"utc":true},{"year":2010,"month":6,"date":26,"utc":true},{"year":2010,"month":7,"date":5,"utc":true},{"year":2010,"month":7,"date":14,"utc":true},{"year":2010,"month":7,"date":23,"utc":true},{"year":2010,"month":8,"date":1,"utc":true},{"year":2010,"month":8,"date":10,"utc":true},{"year":2010,"month":8,"date":19,"utc":true},{"year":2010,"month":8,"date":28,"utc":true},{"year":2010,"month":9,"date":6,"utc":true},{"year":2010,"month":9,"date":15,"utc":true},{"year":2010,"month":9,"date":24,"utc":true},{"year":2010,"month":10,"date":3,"utc":true},{"year":2010,"month":10,"date":12,"utc":true},{"year":2010,"month":10,"date":21,"utc":true},{"year":2010,"month":10,"date":30,"utc":true},{"year":2010,"month":11,"date":8,"utc":true},{"year":2010,"month":11,"date":17,"utc":true},{"year":2010,"month":11,"date":26,"utc":true},{"year":2010,"month":12,"date":5,"utc":true},{"year":2010,"month":12,"date":14,"utc":true},{"year":2010,"month":12,"date":23,"utc":true},{"year":2011,"month":1,"date":1,"utc":true},{"year":2011,"month":1,"date":10,"utc":true},{"year":2011,"month":1,"date":19,"utc":true},{"year":2011,"month":1,"date":28,"utc":true},{"year":2011,"month":2,"date":6,"utc":true}]}},
"y":{"field":"v","type":"quantitative","scale":{"domain":[0,1200],"nice":false},
"axis":{"title":"Μονάδες βάσης","format":"d","values":[0,200,400,600,800,1000,1200],"grid":false,"labelFont":"Liberation Serif","labelFontSize":15,"labelColor":"#1a1a1a","labelPadding":2,"tickSize":7,"tickColor":"#000","domainColor":"#000","titleFont":"Liberation Serif","titleFontSize":15,"titleFontWeight":"normal","titleColor":"#1a1a1a","titlePadding":0}},
"color":{"field":"c","type":"nominal","sort":null,"scale":{"domain":["Ελλάδα","Ιρλανδία","Ισπανία","Πορτογαλία","Ιταλία","Γερμανία"],"range":["#1aa3dc","#0c4a6e","#8ed3f2","#2b7c9d","#a9bfd1","#9a6b92"]},
"legend":{"title":null,"orient":"none","legendX":68,"legendY":426,"direction":"horizontal","symbolType":"stroke","symbolStrokeWidth":3,"symbolSize":440,"labelFont":"Liberation Serif","labelFontSize":14.5,"labelColor":"#1a1a1a","labelOffset":2,"columnPadding":1}}
}
}
